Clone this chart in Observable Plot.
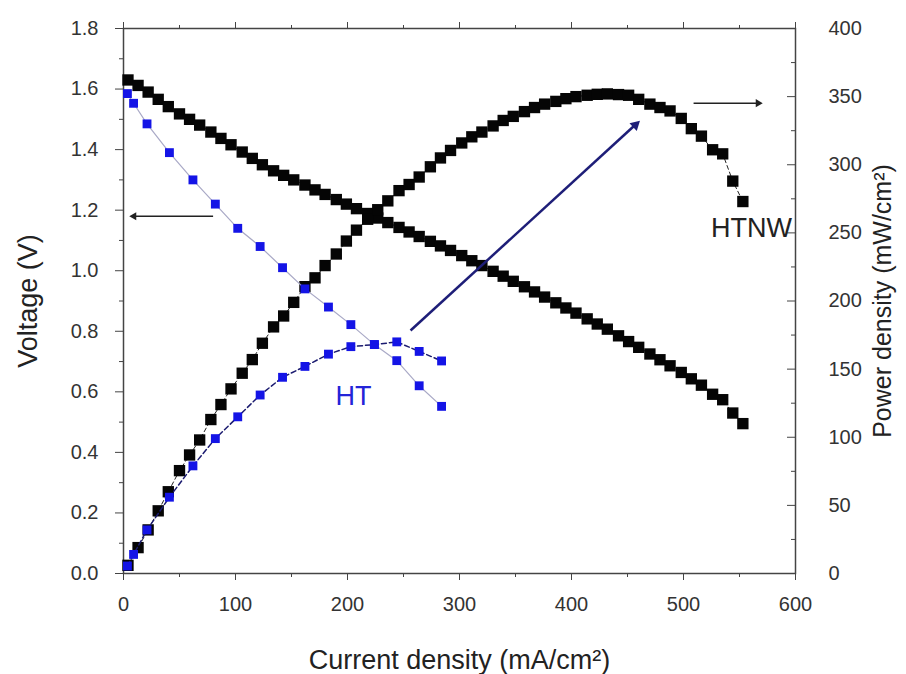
<!DOCTYPE html>
<html><head><meta charset="utf-8">
<script src="https://cdn.jsdelivr.net/npm/d3@7"></script>
<script src="https://cdn.jsdelivr.net/npm/@observablehq/plot@0.6"></script>
<style>body{margin:0;background:#fff;} #chart{width:906px;height:674px;}</style>
</head><body><div id="chart"></div>
<script>
// HTNW series (black)
const htnwCurrent = [4,13,22,31,40,50,59,68,78,87,96,106,115,124,134,143,152,162,171,180,190,199,208,218,227,236,246,255,264,274,283,292,302,311,320,330,339,348,358,367,376,386,395,404,414,423,432,442,451,460,470,479,488,498,507,516,526,535,544,553];
const htnwVoltage = [1.630,1.612,1.590,1.566,1.542,1.518,1.500,1.481,1.458,1.437,1.416,1.392,1.371,1.350,1.330,1.315,1.300,1.283,1.267,1.252,1.235,1.220,1.205,1.189,1.174,1.159,1.143,1.128,1.113,1.097,1.082,1.067,1.050,1.033,1.017,0.998,0.982,0.965,0.947,0.930,0.913,0.894,0.877,0.860,0.841,0.824,0.807,0.785,0.766,0.747,0.725,0.706,0.686,0.664,0.643,0.622,0.592,0.574,0.530,0.495];
const htnwPower = [6,19,32,46,60,75.5,87,98,113,124,135.5,147,157,169,181,189,199,210.5,217,226,234.5,244,252,260,267,273.5,281,285.5,291,298.5,305,310.5,316,320.5,324,328.5,332.5,335.5,339,342,344.5,346.5,348.5,350,351,351.7,352,351.5,351,348,344.5,342,339.5,334,326.5,321,311,308,288,273];
// HT series (blue)
const htCurrent = [3.5,9,21,41,62,82,102,122,142,162,183,203,224,244,264,284];
const htVoltage = [1.585,1.553,1.485,1.39,1.30,1.22,1.14,1.08,1.01,0.94,0.88,0.822,0.756,0.703,0.62,0.552];
const htPower = [5.5,14,32,56,79,99,115,131,144,152,161,166.5,168,170,163,156];
// axes
const voltageTicks = [0,0.2,0.4,0.6,0.8,1.0,1.2,1.4,1.6,1.8];
const voltageMinor = [0.1,0.3,0.5,0.7,0.9,1.1,1.3,1.5,1.7];
const powerTicks = [0,50,100,150,200,250,300,350,400];
const powerMinor = [25,75,125,175,225,275,325,375];
const currentTicks = [0,100,200,300,400,500,600];
const currentMinor = [50,150,250,350,450,550];
const VMAX = 1.8, PMAX = 400;
// annotations (data units)
const arrowShafts = [
  {x1: 80, y1: 1.18, x2: 8, y2: 1.18, c: "#222", w: 1.5},
  {x1: 509, y1: 1.5535, x2: 566, y2: 1.5535, c: "#222", w: 1.5},
  {x1: 256.3, y1: 0.8025, x2: 457, y2: 1.482, c: "#1e1e78", w: 2.5}
];
const arrowHeads = [
  {x: 4.5, y: 1.18, r: 3.5, rot: 270, dx: 5.4, dy: 0, c: "#222"},
  {x: 571.4, y: 1.5535, r: 3.5, rot: 90, dx: -5.4, dy: 0, c: "#222"},
  {x: 463.4, y: 1.5026, r: 6.2, rot: 47.4, dx: -7.1, dy: 6.5, c: "#1e1e78"}
];
const seriesLabels = [
  {x: 205.4, y: 0.585, t: "HT", c: "#2424d8"},
  {x: 560.7, y: 1.139, t: "HTNW", c: "#222"}
];

const toV = p => p * VMAX / PMAX;
const htnw = htnwCurrent.map((c, i) => ({c, v: htnwVoltage[i], p: htnwPower[i]}));
const ht = htCurrent.map((c, i) => ({c, v: htVoltage[i], p: htPower[i]}));

const axisStroke = "#444";
const textFill = "#333";

const chart = Plot.plot({
  width: 906, height: 674,
  marginLeft: 123, marginRight: 111, marginTop: 28, marginBottom: 101,
  x: {domain: [0, 600], axis: null},
  y: {domain: [0, 1.8], axis: null},
  style: {fontFamily: "'Liberation Sans', Arial, sans-serif", background: "#fff"},
  marks: [
    // ticks
    Plot.axisY(voltageTicks, {anchor: "left", tickSize: 8, tickPadding: 17, tickFormat: d => d.toFixed(1), fontSize: 20, stroke: axisStroke, fill: textFill, label: null}),
    Plot.axisY(voltageMinor, {anchor: "left", tickSize: 4, fill: "none", stroke: axisStroke, label: null}),
    Plot.axisY(powerTicks.map(toV), {anchor: "right", tickSize: 0, tickPadding: 33, textAnchor: "start", tickFormat: v => String(Math.round(v * PMAX / VMAX)), fontSize: 20, fill: textFill, label: null}),
    Plot.axisY(powerTicks.map(toV), {anchor: "left", frameAnchor: "right", tickSize: 8, fill: "none", stroke: axisStroke, label: null}),
    Plot.axisY(powerMinor.map(toV), {anchor: "left", frameAnchor: "right", tickSize: 4, fill: "none", stroke: axisStroke, label: null}),
    Plot.axisX(currentTicks, {anchor: "bottom", tickSize: 7, tickPadding: 16, fontSize: 20, stroke: axisStroke, fill: textFill, label: null}),
    Plot.axisX(currentMinor, {anchor: "bottom", tickSize: 4, fill: "none", stroke: axisStroke, label: null}),
    Plot.axisX(currentTicks, {anchor: "top", tickSize: 7, fill: "none", stroke: axisStroke, label: null}),
    Plot.axisX(currentMinor, {anchor: "top", tickSize: 4, fill: "none", stroke: axisStroke, label: null}),
    Plot.frame({stroke: axisStroke, strokeWidth: 1.5}),
    // axis titles
    Plot.text(["Voltage (V)"], {text: d => d, frameAnchor: "left", dx: -95, rotate: -90, textAnchor: "middle", lineAnchor: "middle", fontSize: 27, fill: "#222"}),
    Plot.text(["Power density (mW/cm²)"], {text: d => d, frameAnchor: "right", dx: 87, rotate: -90, textAnchor: "middle", lineAnchor: "middle", fontSize: 25, fill: "#222"}),
    Plot.text(["Current density (mA/cm²)"], {text: d => d, frameAnchor: "bottom", dy: 87, textAnchor: "middle", lineAnchor: "middle", fontSize: 27, fill: "#222"}),
    // HTNW
    Plot.line(htnw, {x: "c", y: "v", stroke: "#222", strokeWidth: 1, strokeDasharray: "4,3"}),
    Plot.line(htnw, {x: "c", y: d => toV(d.p), stroke: "#222", strokeWidth: 1, strokeDasharray: "4,3"}),
    Plot.dot(htnw, {x: "c", y: "v", symbol: "square", r: 6.4, fill: "#050505"}),
    Plot.dot(htnw, {x: "c", y: d => toV(d.p), symbol: "square", r: 6.4, fill: "#050505"}),
    // HT
    Plot.line(ht, {x: "c", y: "v", stroke: "#a9a9c6", strokeWidth: 1.2}),
    Plot.line(ht, {x: "c", y: d => toV(d.p), stroke: "#1b1b70", strokeWidth: 1.5, strokeDasharray: "5,3"}),
    Plot.dot(ht, {x: "c", y: "v", symbol: "square", r: 5, fill: "#1414e6"}),
    Plot.dot(ht, {x: "c", y: d => toV(d.p), symbol: "square", r: 5, fill: "#1414e6"}),
    // annotations
    Plot.link(arrowShafts, {x1: "x1", y1: "y1", x2: "x2", y2: "y2", stroke: d => d.c, strokeWidth: d => d.w}),
    Plot.dot(arrowHeads, {x: "x", y: "y", r: d => d.r, symbol: "triangle", fill: d => d.c, stroke: "none",
      render: (index, scales, values, dims, ctx, next) => {
        const g = next(index, scales, values, dims, ctx);
        d3.select(g).selectAll("path").each(function(_, k) {
          const i = index[k];
          const h = arrowHeads[i];
          d3.select(this).attr("transform", `translate(${values.x[i] + h.dx},${values.y[i] + h.dy}) rotate(${h.rot})`);
        });
        return g;
      }}),
    Plot.text(seriesLabels, {x: "x", y: "y", text: "t", fill: d => d.c, fontSize: 27})
  ]
});
document.getElementById("chart").appendChild(chart);
</script></body></html>
